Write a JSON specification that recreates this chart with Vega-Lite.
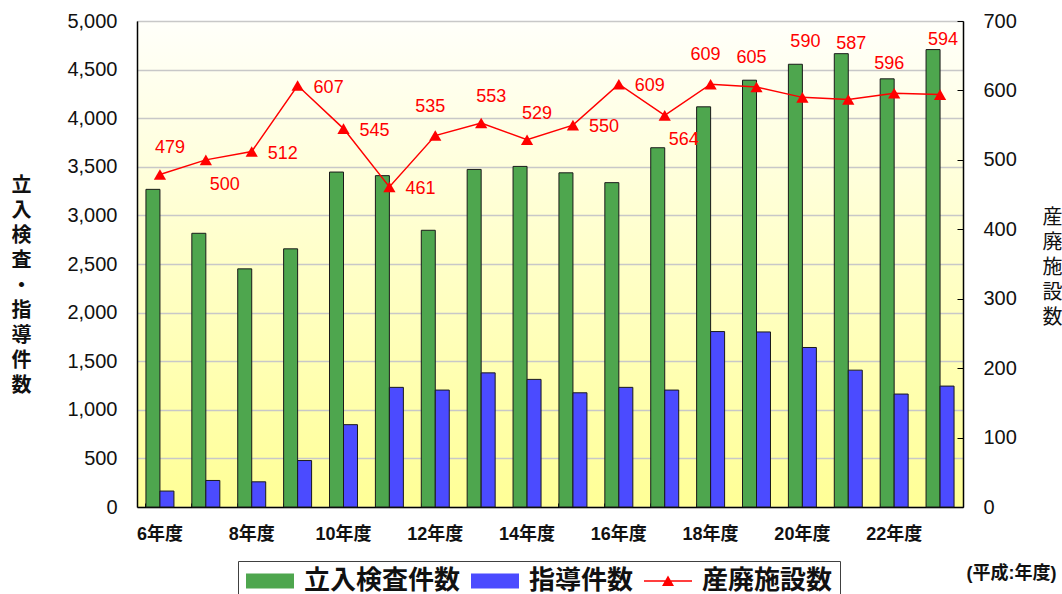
{
  "$schema": "https://vega.github.io/schema/vega-lite/v6.json",
  "width": 826,
  "height": 486,
  "autosize": {"type": "none"},
  "padding": {"left": 137, "top": 21, "right": 99, "bottom": 87},
  "background": "white",
  "config": {
    "font": "Liberation Sans, Noto Sans CJK JP, sans-serif",
    "view": {
      "fill": {"gradient": "linear", "x1": 0, "y1": 0, "x2": 0, "y2": 1,
        "stops": [{"offset": 0, "color": "#fffffa"}, {"offset": 1, "color": "#ffff96"}]},
      "stroke": "#707070",
      "strokeWidth": 1
    },
    "legend": {
      "orient": "none", "legendX": 101, "legendY": 540, "direction": "horizontal", "columns": 3,
      "labelFontSize": 26, "labelFontWeight": "bold", "labelColor": "#111",
      "labelOffset": 33, "labelLimit": 0, "symbolSize": 576, "symbolOpacity": 1,
      "symbolStrokeWidth": 0, "columnPadding": 9, "padding": 7, "strokeColor": "#404040"
    }
  },
  "data": {
    "values": [
      {"year": "6年度", "立入検査件数": 3268, "指導件数": 164, "産廃施設数": 479},
      {"year": "7年度", "立入検査件数": 2816, "指導件数": 273, "産廃施設数": 500},
      {"year": "8年度", "立入検査件数": 2450, "指導件数": 259, "産廃施設数": 512},
      {"year": "9年度", "立入検査件数": 2656, "指導件数": 478, "産廃施設数": 607},
      {"year": "10年度", "立入検査件数": 3446, "指導件数": 847, "産廃施設数": 545},
      {"year": "11年度", "立入検査件数": 3409, "指導件数": 1231, "産廃施設数": 461},
      {"year": "12年度", "立入検査件数": 2847, "指導件数": 1203, "産廃施設数": 535},
      {"year": "13年度", "立入検査件数": 3473, "指導件数": 1380, "産廃施設数": 553},
      {"year": "14年度", "立入検査件数": 3504, "指導件数": 1313, "産廃施設数": 529},
      {"year": "15年度", "立入検査件数": 3438, "指導件数": 1175, "産廃施設数": 550},
      {"year": "16年度", "立入検査件数": 3337, "指導件数": 1231, "産廃施設数": 609},
      {"year": "17年度", "立入検査件数": 3696, "指導件数": 1203, "産廃施設数": 564},
      {"year": "18年度", "立入検査件数": 4117, "指導件数": 1805, "産廃施設数": 609},
      {"year": "19年度", "立入検査件数": 4391, "指導件数": 1801, "産廃施設数": 605},
      {"year": "20年度", "立入検査件数": 4555, "指導件数": 1641, "産廃施設数": 590},
      {"year": "21年度", "立入検査件数": 4664, "指導件数": 1408, "産廃施設数": 587},
      {"year": "22年度", "立入検査件数": 4405, "指導件数": 1162, "産廃施設数": 596},
      {"year": "23年度", "立入検査件数": 4706, "指導件数": 1244, "産廃施設数": 594}
    ]
  },
  "encoding": {
    "x": {
      "field": "year", "type": "nominal", "sort": null,
      "scale": {"paddingInner": 0.39, "paddingOuter": 0.195},
      "axis": {
        "orient": "bottom", "bandPosition": 0, "tickSize": -4, "tickColor": "#000", "tickWidth": 1,
        "labelExpr": "parseInt(datum.value) % 2 === 0 ? datum.label : ''",
        "labelAngle": 0, "labelFontSize": 18, "labelFontWeight": "bold", "labelColor": "#111",
        "labelPadding": 22, "labelBaseline": "top", "labelOverlap": false,
        "domainColor": "#000", "domainWidth": 1.5, "grid": false,
        "title": "(平成:年度)", "titleX": 874, "titleY": 66, "titleAlign": "center",
        "titleBaseline": "middle", "titleFontSize": 18, "titleFontWeight": "bold", "titleColor": "#111"
      }
    }
  },
  "layer": [
    {
      "transform": [{"fold": ["立入検査件数", "指導件数"], "as": ["key", "value"]}],
      "mark": {"type": "bar", "stroke": "#1a1a1a", "strokeWidth": 1},
      "encoding": {
        "xOffset": {"field": "key", "type": "nominal",
          "scale": {"domain": ["立入検査件数", "指導件数"], "paddingInner": 0, "paddingOuter": 0}},
        "y": {
          "field": "value", "type": "quantitative",
          "scale": {"domain": [0, 5000], "nice": false},
          "axis": {
            "orient": "left", "values": [0, 500, 1000, 1500, 2000, 2500, 3000, 3500, 4000, 4500, 5000],
            "format": ",d", "labelFontSize": 20, "labelColor": "#111", "labelPadding": 20,
            "ticks": false, "grid": true, "gridColor": "#c8c8c8", "gridWidth": 1.5,
            "domainColor": "#000", "domainWidth": 1.5,
            "title": ["立", "入", "検", "査", "・", "指", "導", "件", "数"],
            "titleAngle": 0, "titleX": -116, "titleY": 164, "titleAlign": "center",
            "titleBaseline": "middle", "titleFontSize": 20, "titleFontWeight": "bold",
            "titleLineHeight": 25, "titleColor": "#111"
          }
        },
        "color": {
          "field": "key", "type": "nominal",
          "scale": {"domain": ["立入検査件数", "指導件数", "産廃施設数"], "range": ["#4ea64e", "#4b4bff", "#ff0000"]},
          "legend": {"title": null}
        }
      }
    },
    {
      "encoding": {
        "y": {
          "field": "産廃施設数", "type": "quantitative",
          "scale": {"domain": [0, 700], "nice": false},
          "axis": {
            "orient": "right", "values": [0, 100, 200, 300, 400, 500, 600, 700],
            "labelFontSize": 20, "labelColor": "#111", "labelPadding": 26,
            "tickSize": -6, "tickColor": "#000", "tickWidth": 1, "grid": false,
            "domainColor": "#000", "domainWidth": 1.5,
            "title": ["産", "廃", "施", "設", "数"],
            "titleAngle": 0, "titleX": 89, "titleY": 196, "titleAlign": "center",
            "titleBaseline": "middle", "titleFontSize": 20, "titleFontWeight": "normal",
            "titleLineHeight": 25, "titleColor": "#111"
          }
        }
      },
      "layer": [
        {
          "transform": [{"fold": ["立入検査件数", "指導件数", "産廃施設数"], "as": ["key", "value"]}],
          "mark": {"type": "point", "filled": true, "opacity": 0},
          "encoding": {
            "color": {"field": "key", "type": "nominal", "legend": {"title": null}},
            "shape": {"field": "key", "type": "nominal",
              "scale": {"domain": ["立入検査件数", "指導件数", "産廃施設数"],
                "range": ["M-1,-0.62 H3 V0.62 H-1 Z", "M-1,-0.62 H3 V0.62 H-1 Z", "M-1,-0.07 H3 V0.07 H-1 Z M0.5,0.42 L1,-0.45 L1.5,0.42 Z"]},
              "legend": {"title": null}}
          }
        },
        {
          "mark": {"type": "line", "strokeWidth": 1.5,
            "point": {"shape": "triangle-up", "filled": true, "size": 150, "opacity": 1}},
          "encoding": {"color": {"datum": "産廃施設数", "type": "nominal"}}
        },
        {
          "transform": [{"filter": {"field": "year", "oneOf": ["8年度", "9年度", "10年度", "11年度", "15年度", "16年度"]}}],
          "mark": {"type": "text", "align": "left", "baseline": "middle", "dx": 16, "dy": 2, "fontSize": 18, "color": "#ff0000"},
          "encoding": {"text": {"field": "産廃施設数", "type": "quantitative"}}
        },
        {
          "transform": [{"filter": {"field": "year", "oneOf": ["7年度", "17年度"]}}],
          "mark": {"type": "text", "align": "left", "baseline": "middle", "dx": 4, "dy": 25, "fontSize": 18, "color": "#ff0000"},
          "encoding": {"text": {"field": "産廃施設数", "type": "quantitative"}}
        },
        {
          "transform": [{"filter": {"field": "year", "oneOf": ["6年度", "13年度", "14年度"]}}],
          "mark": {"type": "text", "align": "center", "baseline": "middle", "dx": 10, "dy": -26, "fontSize": 18, "color": "#ff0000"},
          "encoding": {"text": {"field": "産廃施設数", "type": "quantitative"}}
        },
        {
          "transform": [{"filter": {"field": "year", "oneOf": ["12年度", "18年度", "19年度", "22年度"]}}],
          "mark": {"type": "text", "align": "center", "baseline": "middle", "dx": -5, "dy": -29, "fontSize": 18, "color": "#ff0000"},
          "encoding": {"text": {"field": "産廃施設数", "type": "quantitative"}}
        },
        {
          "transform": [{"filter": {"field": "year", "oneOf": ["20年度", "21年度", "23年度"]}}],
          "mark": {"type": "text", "align": "center", "baseline": "middle", "dx": 3, "dy": -55, "fontSize": 18, "color": "#ff0000"},
          "encoding": {"text": {"field": "産廃施設数", "type": "quantitative"}}
        }
      ]
    }
  ],
  "resolve": {"scale": {"y": "independent"}}
}
